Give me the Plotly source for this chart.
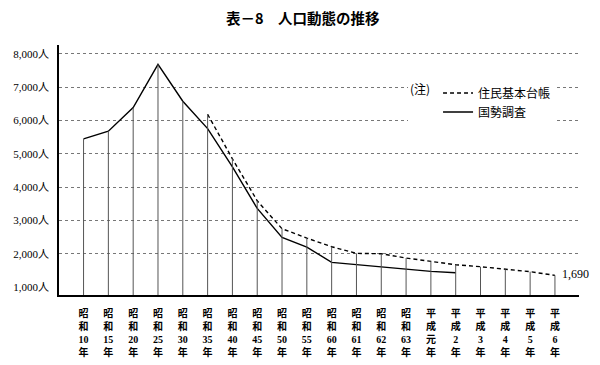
import plotly.graph_objects as go

# ---- data ----
era = ["昭和"] * 14 + ["平成"] * 6
years = ["10", "15", "20", "25", "30", "35", "40", "45", "50", "55",
         "60", "61", "62", "63", "元", "2", "3", "4", "5", "6"]
categories = [f"{e}{y}年" for e, y in zip(era, years)]
tick_labels = ["<br>".join(list(e) + [y, "年"]) for e, y in zip(era, years)]

# 国勢調査 (census)
census = [5450, 5680, 6390, 7690, 6580, 5760, 4610, 3360, 2490, 2200,
          1740, 1670, 1600, 1530, 1470, 1430, None, None, None, None]
# 住民基本台帳 (resident registry)
registry = [None, None, None, None, None, 6190, 4850, 3590, 2750, 2470,
            2210, 2010, 2000, 1870, 1770, 1670, 1610, 1530, 1460, 1350]
last_label = "1,690"

y_ticks = [1000, 2000, 3000, 4000, 5000, 6000, 7000, 8000]
y_tick_text = [f"{v:,}人" for v in y_ticks]
grid_ticks = y_ticks[1:]

Y_MIN, Y_MAX = 760, 8270

# ---- figure ----
fig = go.Figure()

# vertical drop lines from axis to the top of each point
tops = [max(v for v in (c, r) if v is not None) for c, r in zip(census, registry)]
dx, dy = [], []
for cat, top in zip(categories, tops):
    dx += [cat, cat, None]
    dy += [Y_MIN, top, None]
fig.add_trace(go.Scatter(x=dx, y=dy, mode="lines", yaxis="y2",
                         line=dict(color="#555555", width=1),
                         showlegend=False, hoverinfo="skip"))

fig.add_trace(go.Scatter(x=categories, y=registry, mode="lines", name="住民基本台帳",
                         line=dict(color="black", width=1.4, dash="4px,3px")))
fig.add_trace(go.Scatter(x=categories, y=census, mode="lines", name="国勢調査",
                         line=dict(color="black", width=1.4)))

fig.add_annotation(x=categories[-1], y=registry[-1], text=last_label,
                   showarrow=False, xanchor="left", yanchor="middle", xshift=5, yshift=1,
                   font=dict(family="Liberation Serif, Noto Sans CJK JP", size=12, color="black"))

# the page body adds an 8px offset; the figure is sized to fit the 600x365 window
fig.update_layout(
    width=592, height=357,
    margin=dict(l=50.5, r=21, t=37, b=70, autoexpand=False),
    paper_bgcolor="white", plot_bgcolor="white",
    title=dict(text="表－8　人口動態の推移", x=0.498, xanchor="center",
               y=1 - 10.5 / 357, yanchor="middle", yref="container",
               font=dict(family="Noto Sans CJK JP", size=14.5, color="black", weight="bold")),
    xaxis=dict(type="category", categoryorder="array", categoryarray=categories,
               range=[-0.99, 19.97], tickmode="array", tickvals=categories,
               ticktext=tick_labels, ticks="", ticklabelstandoff=8, automargin=False,
               showgrid=False, showline=True, linecolor="black", linewidth=2,
               zeroline=False,
               tickfont=dict(family="Liberation Serif, Noto Sans CJK JP", size=10,
                             color="black", weight="bold")),
    yaxis=dict(range=[Y_MIN, Y_MAX], tickmode="array", tickvals=y_ticks,
               ticktext=y_tick_text, ticks="", ticklabelstandoff=6, automargin=False,
               showgrid=False, showline=True, linecolor="black", linewidth=1.5,
               zeroline=False,
               tickfont=dict(family="Liberation Serif, Noto Sans CJK JP", size=11, color="black")),
    yaxis2=dict(range=[Y_MIN, Y_MAX], overlaying="y", side="left", automargin=False,
                tickmode="array", tickvals=grid_ticks, showticklabels=False,
                showgrid=True, gridcolor="#777777", gridwidth=1, griddash="dot",
                showline=False, zeroline=False, ticks=""),
    legend=dict(x=0.671, y=0.866, xanchor="left", yanchor="top",
                bgcolor="white", borderwidth=0,
                title=dict(text="(注)", side="left",
                           font=dict(family="Noto Sans CJK JP", size=12, color="black")),
                font=dict(family="Noto Sans CJK JP", size=12, color="black"),
                itemwidth=30, tracegroupgap=0),
    showlegend=True,
)

fig.write_html("out.html")
